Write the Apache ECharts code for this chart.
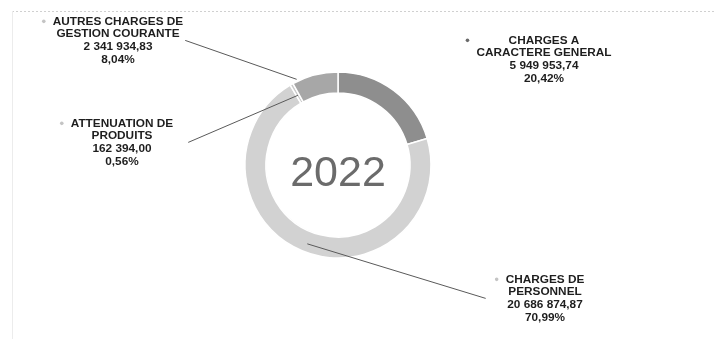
<!DOCTYPE html>
<html>
<head>
<meta charset="utf-8">
<script src="https://cdn.jsdelivr.net/npm/echarts@6/dist/echarts.min.js"></script>
<style>
  html, body { margin: 0; padding: 0; background: #ffffff; }
  #chart { width: 716px; height: 339px; }
</style>
</head>
<body>
<div id="chart"></div>
<script>
// Budget lines (names as shown, with their line breaks)
const categories = [
  'CHARGES A\nCARACTERE GENERAL',
  'CHARGES DE\nPERSONNEL',
  'ATTENUATION DE\nPRODUITS',
  'AUTRES CHARGES DE\nGESTION COURANTE'
];
// Amounts in euros
const amounts = [5949953.74, 20686874.87, 162394.00, 2341934.83];
const yearLabel = '2022';

// Styling
const sliceColors = ['#8e8e8e', '#d2d2d2', '#c9c9c9', '#a7a7a7'];
const bulletColors = ['#6a6a6a', '#c4c4c4', '#c4c4c4', '#c4c4c4'];
const CX = 338, CY = 165, R_IN = 72, R_OUT = 93;
const FONT = '"Liberation Sans", Arial, sans-serif';
const LINE_H = 12.7;

// Label blocks: centre x and top y of each text block
const labelPlaces = [[544, 34], [545, 273], [122, 117], [118, 15]];
// Leader lines: t = position along the slice, k = radial position (0 inner, 1 outer),
// gap = space left between the line and the text block
const leaders = [
  null,
  { t: 0.5, k: 0.6, gap: 20, dy: 0 },
  { t: 0.5, k: 0.4, gap: 15, dy: 0 },
  { t: 0.11, k: 1.1, gap: 2, dy: 0 }
];

const total = amounts.reduce(function (s, v) { return s + v; }, 0);

function frNumber(v) {
  const parts = v.toFixed(2).split('.');
  const intPart = parts[0].replace(/\B(?=(\d{3})+(?!\d))/g, ' ');
  return intPart + ',' + parts[1];
}

const chart = echarts.init(document.getElementById('chart'), null, { renderer: 'canvas' });

chart.setOption({
  animation: false,
  backgroundColor: '#ffffff',
  graphic: {
    elements: [
      { id: 'frameTop', type: 'line', silent: true,
        shape: { x1: 12, y1: 11.5, x2: 716, y2: 11.5 },
        style: { stroke: '#d0d0d0', lineWidth: 1, lineDash: [2, 2] } },
      { id: 'frameLeft', type: 'line', silent: true,
        shape: { x1: 12.5, y1: 11, x2: 12.5, y2: 339 },
        style: { stroke: '#ececec', lineWidth: 1 } },
      { id: 'year', type: 'text', silent: true, x: CX, y: 174,
        style: { text: yearLabel, fill: '#6b6b6b', font: 'normal 43px ' + FONT,
                 textAlign: 'center', textVerticalAlign: 'middle' } }
    ]
  },
  series: [{
    type: 'pie',
    silent: true,
    center: [CX, CY],
    radius: [R_IN, R_OUT],
    startAngle: 90,
    clockwise: true,
    avoidLabelOverlap: false,
    itemStyle: { borderColor: '#ffffff', borderWidth: 1.5 },
    label: {
      show: true,
      position: 'outside',
      color: '#1e1e1e',
      fontFamily: FONT,
      fontWeight: 'bold',
      fontSize: 11.8,
      lineHeight: LINE_H,
      align: 'center',
      formatter: function (p) {
        const pct = (p.value / total * 100).toFixed(2).replace('.', ',');
        return p.name + '\n' + frNumber(p.value) + '\n' + pct + '%';
      }
    },
    labelLine: { show: false },
    labelLayout: function (params) {
      const pl = labelPlaces[params.dataIndex];
      return { x: pl[0], y: pl[1], align: 'center', verticalAlign: 'top' };
    },
    data: categories.map(function (name, i) {
      return { name: name, value: amounts[i], itemStyle: { color: sliceColors[i] } };
    })
  }]
});

// Bullets and leader lines, placed from the pie's own layout and label boxes
function decorate() {
  const data = chart.getModel().getSeriesByIndex(0).getData();
  const extra = [];
  data.each(function (i) {
    const lay = data.getItemLayout(i);
    const el = data.getItemGraphicEl(i);
    const tc = el && el.getTextContent();
    if (!tc) return;
    const rect = tc.getBoundingRect().clone();
    const m = tc.getComputedTransform();
    if (m) rect.applyTransform(m);
    extra.push({
      id: 'bullet' + i, type: 'circle', silent: true, z: 10,
      shape: { cx: rect.x - 9, cy: rect.y + LINE_H / 2, r: 1.8 },
      style: { fill: bulletColors[i] }
    });
    const L = leaders[i];
    if (L) {
      const a = lay.startAngle + (lay.endAngle - lay.startAngle) * L.t;
      const rr = lay.r0 + (lay.r - lay.r0) * L.k;
      const x1 = lay.cx + rr * Math.cos(a);
      const y1 = lay.cy + rr * Math.sin(a);
      const onRight = rect.x + rect.width / 2 > lay.cx;
      const x2 = onRight ? rect.x - L.gap : rect.x + rect.width + L.gap;
      const y2 = rect.y + rect.height / 2 + L.dy;
      extra.push({
        id: 'leader' + i, type: 'line', silent: true, z: 10,
        shape: { x1: x1, y1: y1, x2: x2, y2: y2 },
        style: { stroke: '#5a5a5a', lineWidth: 1 }
      });
    }
  });
  chart.setOption({ graphic: { elements: extra } });
}
decorate();
</script>
</body>
</html>
